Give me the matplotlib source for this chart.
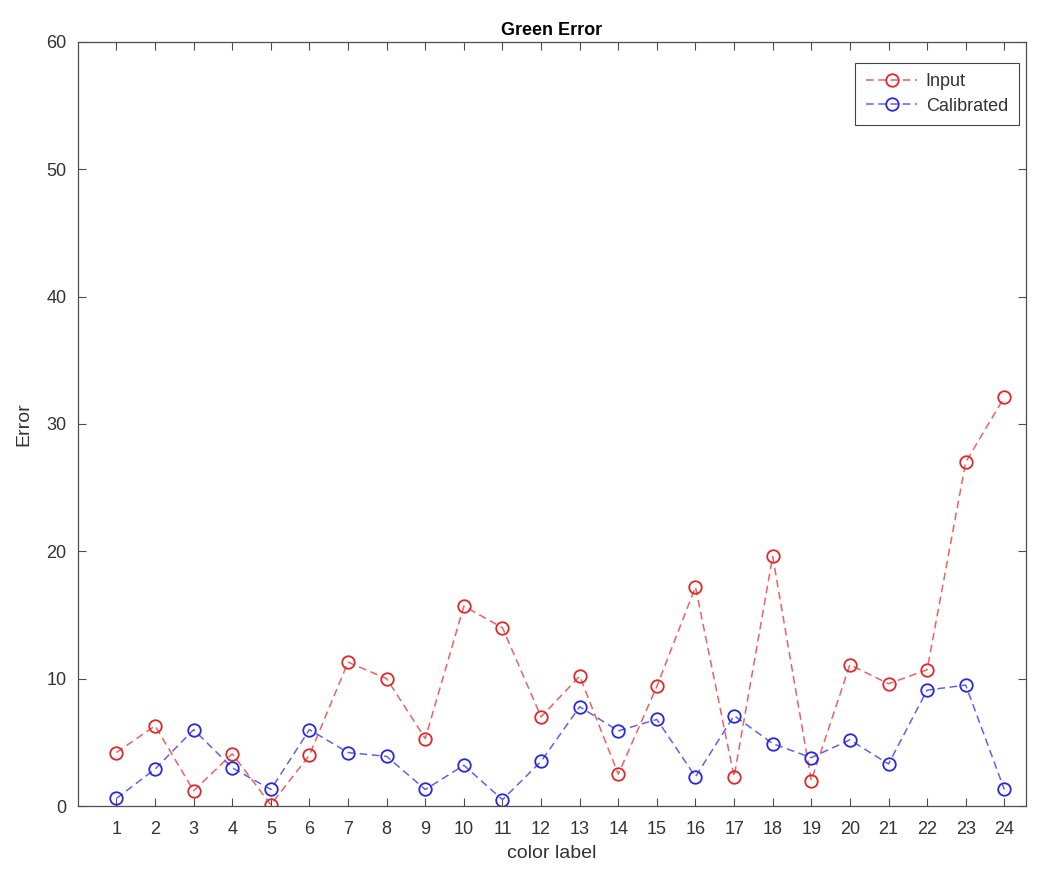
import matplotlib
matplotlib.use('Agg')

import matplotlib.pyplot as plt
import numpy as np

# --- data -----------------------------------------------------------
labels = np.arange(1, 25)

input_err = [4.2, 6.3, 1.2, 4.1, 0.1, 4.0, 11.3, 10.0, 5.3, 15.7, 14.0, 7.0,
             10.2, 2.5, 9.4, 17.2, 2.3, 19.6, 2.0, 11.1, 9.6, 10.7, 27.0, 32.1]

calib_err = [0.6, 2.9, 6.0, 3.0, 1.3, 6.0, 4.2, 3.9, 1.3, 3.2, 0.5, 3.5,
             7.8, 5.9, 6.8, 2.3, 7.1, 4.9, 3.8, 5.2, 3.3, 9.1, 9.5, 1.3]

# --- style ----------------------------------------------------------
plt.rcParams['font.family'] = ['Liberation Sans', 'DejaVu Sans']
plt.rcParams['font.size'] = 11
axis_col = '#4d4d4d'
text_col = '#333333'

fig = plt.figure(figsize=(10.38, 8.73), dpi=100)
ax = fig.add_axes([0.075, 0.0767, 0.913, 0.8753])

ax.plot(labels, input_err, linestyle='--', color='#f06060', lw=1.1,
        dashes=(5, 3), marker='o', ms=9, mfc='none', mec='#e02828',
        mew=1.3, label='Input')
ax.plot(labels, calib_err, linestyle='--', color='#6060f0', lw=1.1,
        dashes=(5, 3), marker='o', ms=9, mfc='none', mec='#2828e0',
        mew=1.3, label='Calibrated')

ax.set_xlim(0, 24.55)
ax.set_ylim(0, 60)
ax.set_xticks(labels)
ax.set_yticks(np.arange(0, 61, 10))

ax.tick_params(direction='in', top=True, right=True, length=6,
               color=axis_col, labelcolor=text_col, labelsize=13, width=0.8)
ax.tick_params(axis='x', pad=11)
ax.tick_params(axis='y', pad=8)
for s in ax.spines.values():
    s.set_color(axis_col)
    s.set_linewidth(0.9)

ax.set_title('Green Error', fontsize=13, fontweight='bold', pad=5)
ax.set_xlabel('color label', fontsize=14, color=text_col, labelpad=5)
ax.set_ylabel('Error', fontsize=14, color=text_col, labelpad=10)

leg = ax.legend(loc='upper right', bbox_to_anchor=(0.993, 0.973),
                borderaxespad=0, fancybox=False, framealpha=1,
                edgecolor='#444444', fontsize=13, handlelength=2.8,
                handletextpad=0.5, borderpad=0.6, labelspacing=0.4)
leg.get_frame().set_linewidth(0.8)
for t in leg.get_texts():
    t.set_color(text_col)

fig.savefig('out.png', dpi=100)
